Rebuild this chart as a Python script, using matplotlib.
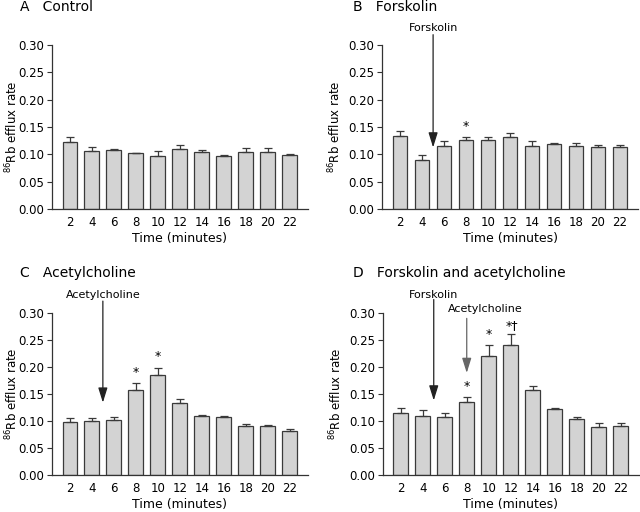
import numpy as np
import matplotlib
matplotlib.use("Agg")
import matplotlib.pyplot as plt

plt.rcParams['font.family'] = ['DejaVu Sans']

times = [2, 4, 6, 8, 10, 12, 14, 16, 18, 20, 22]

# panel A - control
ctrl_mean = [0.122, 0.106, 0.1075, 0.102, 0.0965, 0.110, 0.104, 0.096, 0.104, 0.104, 0.0995]
ctrl_err = [0.009, 0.008, 0.0015, 0.001, 0.0095, 0.007, 0.0035, 0.0035, 0.007, 0.007, 0.0015]

# panel B - forskolin
fsk_mean = [0.134, 0.089, 0.115, 0.1265, 0.1265, 0.131, 0.1155, 0.118, 0.1155, 0.113, 0.113]
fsk_err = [0.008, 0.0105, 0.009, 0.006, 0.006, 0.008, 0.0085, 0.0035, 0.0045, 0.004, 0.004]

# panel C - acetylcholine
ach_mean = [0.0973, 0.1004, 0.1017, 0.1583, 0.186, 0.133, 0.109, 0.107, 0.090, 0.090, 0.0807]
ach_err = [0.0074, 0.0043, 0.0061, 0.0127, 0.013, 0.007, 0.003, 0.002, 0.005, 0.0025, 0.0043]

# panel D - forskolin and acetylcholine
both_mean = [0.1146, 0.110, 0.108, 0.136, 0.220, 0.2415, 0.1565, 0.1214, 0.1035, 0.088, 0.090]
both_err = [0.0099, 0.0095, 0.006, 0.009, 0.0215, 0.0195, 0.0075, 0.0031, 0.0045, 0.0075, 0.0055]

fig = plt.figure(figsize=(6.4, 5.12), dpi=100)

def draw_panel(rect, title, title_xy, mean, err, arrows, marks, lab_x):
    ax = fig.add_axes(rect)
    yerr = [np.zeros(len(err)), err]
    ax.bar(times, mean, width=1.34, color='#d3d3d3', edgecolor='#3a3a3a', linewidth=0.9,
           yerr=yerr, error_kw=dict(ecolor='#3a3a3a', elinewidth=0.9, capsize=2.6, capthick=0.9))
    ax.set_xlim(0.36, 23.64)
    ax.set_ylim(0, 0.30)
    ax.set_yticks([0.0, 0.05, 0.10, 0.15, 0.20, 0.25, 0.30])
    ax.set_yticklabels(['0.00', '0.05', '0.10', '0.15', '0.20', '0.25', '0.30'])
    ax.set_xticks(times)
    ax.tick_params(axis='x', length=0, pad=5, labelsize=8.5)
    ax.tick_params(axis='y', length=3.5, width=0.8, color='#333333', pad=2, labelsize=8.5)
    for s in ['top', 'right']:
        ax.spines[s].set_visible(False)
    for s in ['left', 'bottom']:
        ax.spines[s].set_color('#333333')
        ax.spines[s].set_linewidth(0.9)
    ax.set_xlabel('Time (minutes)', fontsize=9, labelpad=2)
    ax.set_ylabel(r'$^{86}$Rb efflux rate', fontsize=8.5)
    ax.yaxis.set_label_coords(lab_x, 0.5)
    for (x, ytext, ytip, ytop, label, tx, col) in arrows:
        ax.annotate('', xy=(x, ytip), xytext=(x, ytop),
                    arrowprops=dict(arrowstyle='-|>,head_length=0.9,head_width=0.28',
                                    color=col, lw=0.9, mutation_scale=10,
                                    shrinkA=0, shrinkB=0))
        ax.text(tx, ytext, label, ha='center', va='center', fontsize=8, clip_on=False)
    for (x, y, s) in marks:
        ax.text(x, y, s, ha='center', va='center', fontsize=9)
    fig.text(title_xy[0], title_xy[1], title, fontsize=10, va='center', ha='left')
    return ax

draw_panel([0.081, 0.592, 0.40, 0.320], "A   Control", (0.032, 0.986),
           ctrl_mean, ctrl_err, [], [], -0.125)
draw_panel([0.597, 0.592, 0.40, 0.320], "B   Forskolin", (0.551, 0.986),
           fsk_mean, fsk_err,
           [(5, 0.331, 0.1125, 0.319, "Forskolin", 5, '#222222')],
           [(8, 0.151, "*")], -0.15)
draw_panel([0.081, 0.0723, 0.40, 0.3164], "C   Acetylcholine", (0.032, 0.467),
           ach_mean, ach_err,
           [(5, 0.333, 0.134, 0.322, "Acetylcholine", 5, '#222222')],
           [(8, 0.190, "*"), (10, 0.220, "*")], -0.125)
draw_panel([0.598, 0.0723, 0.40, 0.3164], "D   Forskolin and acetylcholine", (0.551, 0.467),
           both_mean, both_err,
           [(5, 0.333, 0.138, 0.325, "Forskolin", 5, '#222222'),
            (8, 0.307, 0.189, 0.29, "Acetylcholine", 9.66, '#666666')],
           [(8, 0.164, "*"), (10, 0.260, "*"), (12.1, 0.277, "*†")], -0.15)

fig.savefig('out.png', dpi=100)
